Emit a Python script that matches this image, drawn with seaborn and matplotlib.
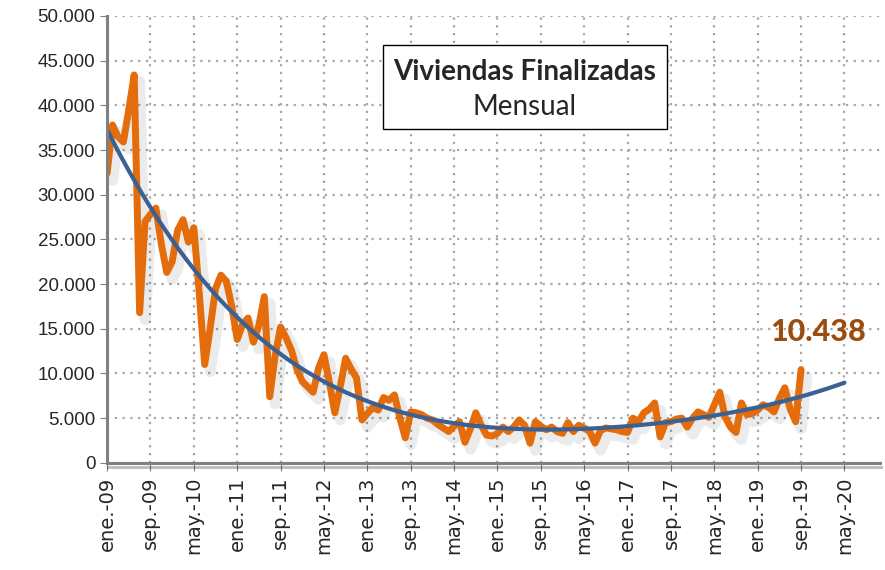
import numpy as np
import pandas as pd
import seaborn as sns
import matplotlib.pyplot as plt
import matplotlib.patheffects as pe
from matplotlib.patches import Rectangle
from matplotlib.ticker import FuncFormatter

# ---------------------------------------
# Data: viviendas finalizadas, mensual (ene-09 .. sep-19)
# ---------------------------------------
viviendas = [
    32400, 37800, 36500, 35900, 39500, 43400, 16800, 27000, 27800, 28500,
    24500, 21300, 22500, 26000, 27200, 24700, 26300, 19000, 11000, 15000,
    19500, 21000, 20300, 17500, 13800, 15500, 16200, 13500, 15400, 18600,
    7400, 12000, 15200, 14000, 12600, 10500, 9100, 8500, 7900, 10600,
    12100, 9000, 5600, 8500, 11700, 10500, 9500, 4800, 5500, 6200,
    5900, 7300, 7000, 7600, 5000, 2800, 5700, 5600, 5400, 5000,
    4800, 4300, 3900, 3500, 4100, 4600, 2300, 3800, 5600, 4200,
    3100, 3000, 3300, 4000, 3500, 4000, 4800, 4200, 2200, 4600,
    4100, 3700, 4000, 3500, 3300, 4500, 3500, 4200, 3900, 3500,
    2200, 3600, 3900, 3800, 3700, 3500, 3400, 5000, 4600, 5600,
    6000, 6700, 2900, 4500, 4600, 4900, 5000, 4000, 5000, 5700,
    5400, 5100, 6500, 7900, 5100, 4000, 3400, 6700, 5400, 5500,
    5900, 6500, 6200, 5700, 7200, 8400, 6000, 4600, 10438,
]
mes = list(range(len(viviendas)))

tick_labels = ["ene.-09", "sep.-09", "may.-10", "ene.-11", "sep.-11", "may.-12",
               "ene.-13", "sep.-13", "may.-14", "ene.-15", "sep.-15", "may.-16",
               "ene.-17", "sep.-17", "may.-18", "ene.-19", "sep.-19", "may.-20"]
tick_pos = [8 * i for i in range(len(tick_labels))]

df = pd.DataFrame({"mes": mes, "viviendas": viviendas})

# polynomial trend (as the spreadsheet trendline), extended to may.-20
coef = np.polyfit(df["mes"], df["viviendas"], 4)
trend_x = np.linspace(0, tick_pos[-1], 300)
trend = pd.DataFrame({"mes": trend_x, "tendencia": np.polyval(coef, trend_x)})

# ---------------------------------------
# Plot
# ---------------------------------------
sns.set_style("white")
plt.rcParams["font.family"] = ["Liberation Sans", "DejaVu Sans"]

fig = plt.figure(figsize=(8.85, 5.70), dpi=100)
ax = fig.add_axes([0.121, 0.188, 0.873, 0.784])

orange = "#E46C0A"
blue = "#3A6094"

sns.lineplot(data=df, x="mes", y="viviendas", ax=ax, color=orange, lw=5,
             solid_joinstyle="round",
             path_effects=[pe.SimpleLineShadow(offset=(4, -5), shadow_color="black",
                                               alpha=0.08, rho=1, linewidth=8),
                           pe.Normal()])
sns.lineplot(data=trend, x="mes", y="tendencia", ax=ax, color=blue, lw=3)

ax.set_xlim(0, 142.5)
ax.set_ylim(0, 50000)
ax.set_yticks(range(0, 50001, 5000))
ax.yaxis.set_major_formatter(FuncFormatter(lambda v, p: f"{int(v):,}".replace(",", ".")))
ax.set_xticks(tick_pos)
ax.set_xticklabels(tick_labels, rotation=90, family="DejaVu Sans", fontsize=14)
ax.tick_params(axis="y", labelsize=13.5, length=5, color="#808080", direction="out", left=True)
ax.tick_params(axis="x", length=6, color="#808080", direction="out", bottom=True, pad=4)
ax.set_xlabel("")
ax.set_ylabel("")

ax.grid(True, linestyle=(0, (1, 2.5)), color="#A6A6A6", lw=1.6)
for s in ["top", "right"]:
    ax.spines[s].set_visible(False)
for s in ["left", "bottom"]:
    ax.spines[s].set_color("#808080")
    ax.spines[s].set_linewidth(2.2)
ax.spines["bottom"].set_path_effects([pe.SimpleLineShadow(offset=(1, -3), alpha=0.25),
                                      pe.Normal()])

# last value label
ax.annotate(f"{viviendas[-1]:,}".replace(",", "."), xy=(mes[-1], viviendas[-1]),
            xytext=(12, 27), textcoords="offset points", ha="center", va="center",
            fontsize=22, fontweight="black", color="#9C4D0E", family="Lato")

# title box
fig.patches.append(Rectangle((0.433, 0.774), 0.321, 0.147, transform=fig.transFigure,
                             facecolor="white", edgecolor="black", lw=1, zorder=5))
fig.text(0.593, 0.874, "Viviendas Finalizadas", ha="center", va="center",
         fontsize=20, fontweight="bold", family="Lato", zorder=6)
fig.text(0.593, 0.812, "Mensual", ha="center", va="center",
         fontsize=20, family="Lato", zorder=6)

plt.savefig("out.png", dpi=100)
